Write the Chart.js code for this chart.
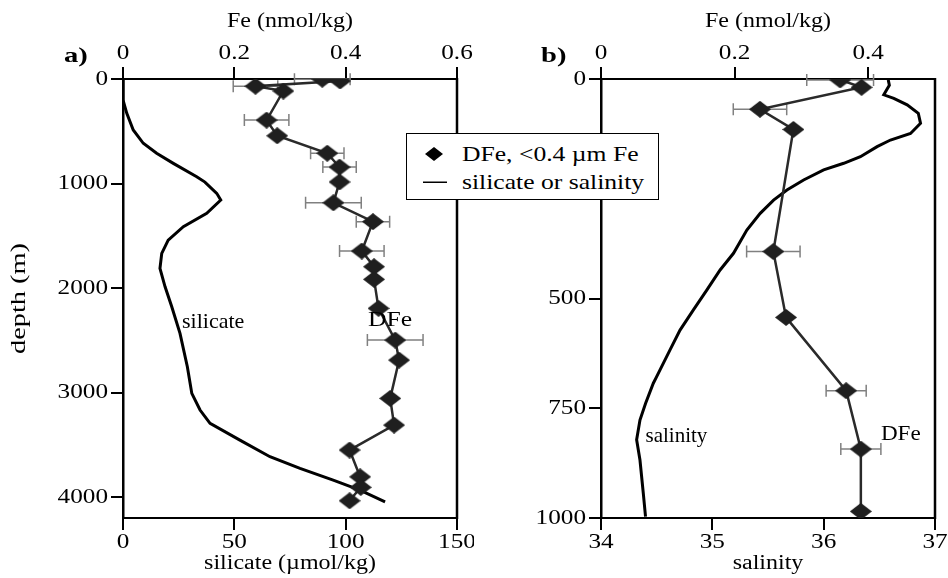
<!DOCTYPE html>
<html><head><meta charset="utf-8">
<script src="https://cdn.jsdelivr.net/npm/chart.js@4.4.1/dist/chart.umd.min.js"></script>
<style>
html,body{margin:0;padding:0;background:#fff;}
#wrap{position:relative;width:948px;height:578px;overflow:hidden;font-family:"Liberation Serif","DejaVu Serif","Times New Roman",Times,serif;}
canvas{position:absolute;top:0;}
#ca{left:0}
#cb{left:474px}
.lab{position:absolute;font-size:22px;line-height:1;color:#000;white-space:nowrap;transform-origin:0 0;transform:scaleX(1.3);}
#legend{position:absolute;left:406px;top:133px;width:251px;height:65px;border:1.5px solid #000;background:#fff;font-size:21px;}
#legend .row{position:absolute;left:0;height:26px;line-height:26px;white-space:nowrap;}
#legend .txt{position:absolute;left:55px;top:0;transform-origin:0 50%;transform:scaleX(1.22);}
</style></head><body>
<div id="wrap">
<canvas id="ca" width="474" height="578"></canvas>
<canvas id="cb" width="474" height="578"></canvas>
<div class="lab" style="left:64px;top:44px;font-weight:bold">a)</div>
<div class="lab" style="left:541px;top:44px;font-weight:bold">b)</div>
<div id="legend">
  <div class="row" style="top:7px"><svg style="position:absolute;left:18px;top:6px" width="18" height="14"><polygon points="9,0 18,7 9,14 0,7" fill="#000"/></svg><span class="txt">DFe, &lt;0.4 µm Fe</span></div>
  <div class="row" style="top:35px"><svg style="position:absolute;left:16px;top:12px" width="24" height="3"><rect x="0" y="0.5" width="24" height="1.5" fill="#000"/></svg><span class="txt">silicate or salinity</span></div>
</div>
</div>
<script>
// ---- data ----
const dfeDepth = [2, 19, 69, 115, 393, 543, 710, 843, 985, 1184, 1365, 1646, 1796, 1917, 2194, 2498, 2689, 3056, 3311, 3550, 3806, 3907, 4035];
const dfeFe    = [0.358, 0.390, 0.238, 0.288, 0.258, 0.277, 0.367, 0.389, 0.389, 0.378, 0.449, 0.429, 0.451, 0.451, 0.459, 0.489, 0.496, 0.480, 0.487, 0.407, 0.426, 0.427, 0.407];
const dfeErr   = [0.05, null, 0.04, null, 0.04, null, 0.03, 0.03, null, 0.05, 0.03, 0.04, null, null, null, 0.05, null, null, null, null, null, null, null];

const silDepth = [0, 200, 328, 488, 615, 711, 807, 935, 986, 1094, 1158, 1285, 1413, 1541, 1668, 1811, 1988, 2179, 2434, 2753, 3008, 3167, 3295, 3455, 3614, 3725, 3837, 3933, 4045];
const silVal   = [0, 0, 1.7, 4.6, 9.1, 15.1, 22.6, 33.1, 36.8, 42.1, 43.9, 37.6, 27.1, 20.3, 17.4, 16.6, 18.9, 21.9, 25.6, 28.9, 30.9, 34.6, 39.1, 52.5, 66.0, 79.5, 94.4, 106.4, 117.7];

const salDepth = [2, 14, 36, 44, 59, 78, 101, 124, 139, 154, 177, 192, 207, 230, 253, 276, 306, 344, 397, 435, 481, 526, 572, 617, 678, 693, 739, 777, 822, 868, 944, 997];
const salVal   = [36.58, 36.59, 36.54, 36.63, 36.75, 36.85, 36.87, 36.78, 36.60, 36.48, 36.33, 36.18, 36.00, 35.82, 35.67, 35.55, 35.43, 35.31, 35.19, 35.07, 34.95, 34.83, 34.71, 34.62, 34.50, 34.47, 34.40, 34.35, 34.32, 34.35, 34.38, 34.40];

const depthTicksA = [0, 1000, 2000, 3000, 4000];
const depthTicksB = [0, 250, 500, 750, 1000];
const feTicksA = [0, 0.2, 0.4, 0.6];
const feTicksB = [0, 0.2, 0.4];
const silTicks = [0, 50, 100, 150];
const salTicks = [34, 35, 36, 37];

// ---- helpers ----
const FONT = '"Liberation Serif", "DejaVu Serif", "Times New Roman", Times, serif';
const TEXT_STRETCH = 1.2, TEXT_STRETCH_ROT = 1.35;

// the reference typesetting is wider than plain Times: widen glyphs along the writing direction
function stretchText(canvas) {
  const ctx = canvas.getContext('2d');
  const orig = ctx.fillText;
  ctx.fillText = function (text, x, y, maxWidth) {
    const m = this.getTransform();
    const s = this.__stretch != null ? this.__stretch : (Math.abs(m.b) > 0.5 ? TEXT_STRETCH_ROT : TEXT_STRETCH);
    this.save();
    this.translate(x, y);
    this.scale(s, 1);
    if (maxWidth === undefined || maxWidth === null) orig.call(this, text, 0, 0);
    else orig.call(this, text, 0, 0, maxWidth / s);
    this.restore();
  };
}

function diamond(w, h, color) {
  const c = document.createElement('canvas'); c.width = w; c.height = h;
  const x = c.getContext('2d'); x.fillStyle = color;
  x.beginPath(); x.moveTo(w/2, 0); x.lineTo(w, h/2); x.lineTo(w/2, h); x.lineTo(0, h/2); x.closePath(); x.fill();
  return c;
}
const dia = diamond(22, 17, '#1f1f1f');

function pts(xs, ys, maxDepth) {
  const out = [];
  for (let i = 0; i < xs.length; i++) if (ys[i] <= maxDepth) out.push({x: xs[i], y: ys[i]});
  return out;
}

function axis(position, min, max, tickArr, title, size, titleSize) {
  const vertical = position === 'left' || position === 'right';
  return {
    type: 'linear', position, min, max, reverse: vertical,
    afterBuildTicks: s => { s.ticks = tickArr.map(v => ({value: v})); },
    afterFit: s => {
      if (vertical) s.width = size; else s.height = size;
      s.paddingLeft = 0; s.paddingRight = 0; s.paddingTop = 0; s.paddingBottom = 0;
    },
    border: {display: true, color: '#000', width: vertical ? 2.5 : 2},
    grid: {display: true, drawOnChartArea: false, drawTicks: true, tickLength: 12, color: '#000', lineWidth: 2},
    ticks: {color: '#000', font: {family: FONT, size: 21}, padding: vertical ? 3 : (position === 'top' ? 1 : 0), callback: v => String(v), maxRotation: 0, autoSkip: false},
    title: title ? {display: true, text: title, color: '#000', font: {family: FONT, size: titleSize || 20}, padding: {top: position === 'left' ? 7 : 10, bottom: 2}} : {display: false}
  };
}

const errPlugin = {
  id: 'errbars',
  beforeDatasetsDraw(chart) {
    const ctx = chart.ctx;
    chart.data.datasets.forEach(ds => {
      if (!ds.errors) return;
      const xs = chart.scales[ds.xAxisID], ys = chart.scales[ds.yAxisID];
      ctx.save(); ctx.strokeStyle = '#808080'; ctx.lineWidth = 1.5;
      ds.data.forEach((p, i) => {
        const e = ds.errors[i]; if (e == null) return;
        const y = ys.getPixelForValue(p.y);
        const x1 = xs.getPixelForValue(p.x - e), x2 = xs.getPixelForValue(p.x + e);
        ctx.beginPath();
        ctx.moveTo(x1, y); ctx.lineTo(x2, y);
        ctx.moveTo(x1, y - 6); ctx.lineTo(x1, y + 6);
        ctx.moveTo(x2, y - 6); ctx.lineTo(x2, y + 6);
        ctx.stroke();
      });
      ctx.restore();
    });
  }
};
const framePlugin = {
  id: 'frame',
  afterDraw(chart) {
    const {ctx, chartArea: a} = chart;
    ctx.save(); ctx.strokeStyle = '#000'; ctx.lineWidth = 2.5;
    ctx.beginPath(); ctx.moveTo(a.right, a.top - 1); ctx.lineTo(a.right, a.bottom + 1); ctx.stroke();
    ctx.restore();
    const notes = chart.options.plugins.notes || [];
    ctx.save(); ctx.fillStyle = '#000'; ctx.textBaseline = 'middle'; ctx.textAlign = 'left';
    notes.forEach(n => {
      ctx.font = n.size + 'px ' + FONT;
      ctx.__stretch = n.stretch;
      const x = chart.scales[n.axis].getPixelForValue(n.x), y = chart.scales.y.getPixelForValue(n.y);
      ctx.fillText(n.text, x, y);
    });
    ctx.__stretch = null;
    ctx.restore();
  }
};

function makeChart(id, cfg) {
  const canvas = document.getElementById(id);
  stretchText(canvas);
  return new Chart(canvas, {
    type: 'scatter',
    data: {datasets: [
      {label: cfg.profLabel, data: cfg.prof, xAxisID: 'xb', yAxisID: 'y', showLine: true, borderColor: '#000', borderWidth: 3, pointRadius: 0, tension: 0, order: 2},
      {label: 'DFe, <0.4 µm Fe', data: cfg.dfe, errors: cfg.err, xAxisID: 'xt', yAxisID: 'y', showLine: true, borderColor: '#2a2a2a', borderWidth: 2.5, pointStyle: dia, pointRadius: 9, pointHoverRadius: 9, order: 1}
    ]},
    options: {
      responsive: false, maintainAspectRatio: false, animation: false, devicePixelRatio: 1,
      layout: {padding: {left: 0, right: cfg.padRight, top: 0, bottom: 0}},
      plugins: {legend: {display: false}, tooltip: {enabled: false}, notes: cfg.notes},
      scales: {
        y: axis('left', 0, cfg.depthMax, cfg.depthTicks, cfg.yTitle, cfg.yWidth, 21),
        xt: axis('top', 0, cfg.feMax, cfg.feTicks, 'Fe (nmol/kg)', 79),
        xb: axis('bottom', cfg.bMin, cfg.bMax, cfg.bTicks, cfg.bTitle, 60)
      }
    },
    plugins: [errPlugin, framePlugin]
  });
}

function draw() {
  makeChart('ca', {
    prof: pts(silVal, silDepth, 1e9), profLabel: 'silicate',
    dfe: pts(dfeFe, dfeDepth, 1e9), err: dfeErr,
    depthMax: 4200, depthTicks: depthTicksA, yTitle: 'depth (m)', yWidth: 123,
    feMax: 0.6, feTicks: feTicksA,
    bMin: 0, bMax: 150, bTicks: silTicks, bTitle: 'silicate (µmol/kg)',
    padRight: 17,
    notes: [{axis: 'xb', x: 26.5, y: 2330, text: 'silicate', size: 22, stretch: 1.0},
            {axis: 'xt', x: 0.44, y: 2310, text: 'DFe', size: 21, stretch: 1.22}]
  });
  const nB = dfeDepth.filter(d => d <= 1000).length;
  makeChart('cb', {
    prof: pts(salVal, salDepth, 1e9), profLabel: 'salinity',
    dfe: pts(dfeFe, dfeDepth, 1000), err: dfeErr.slice(0, nB),
    depthMax: 1000, depthTicks: depthTicksB, yTitle: null, yWidth: 127,
    feMax: 0.5, feTicks: feTicksB,
    bMin: 34, bMax: 37, bTicks: salTicks, bTitle: 'salinity',
    padRight: 13,
    notes: [{axis: 'xb', x: 34.40, y: 815, text: 'salinity', size: 21, stretch: 1.0},
            {axis: 'xt', x: 0.419, y: 809, text: 'DFe', size: 21, stretch: 1.1}]
  });
}
if (document.fonts && document.fonts.load) {
  Promise.all([document.fonts.load('22px "Liberation Serif"'), document.fonts.load('bold 22px "Liberation Serif"')]).then(draw, draw);
} else draw();
</script>
</body></html>
